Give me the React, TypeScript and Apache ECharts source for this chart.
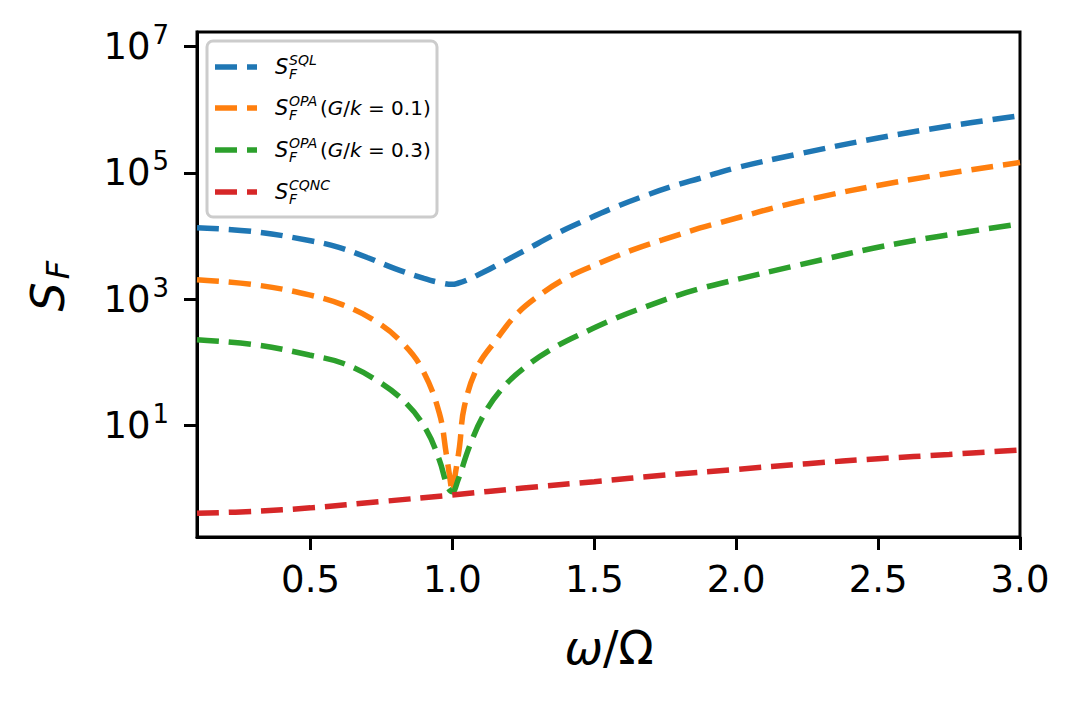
import React, { useEffect, useRef } from "react";
import * as echarts from "echarts";

// ---- data ----
const sqlX = [0.1, 0.3, 0.5, 0.6, 0.7, 0.8, 0.9, 0.95, 1.0, 1.019, 1.05, 1.107, 1.166, 1.259, 1.365, 1.471, 1.564, 1.67, 1.775, 1.87, 2.0, 2.222, 2.5, 2.75, 3.0];
const sqlY = [13500, 11750, 8410, 6610, 4570, 3020, 2140, 1860, 1720, 1790, 2000, 2640, 3630, 6030, 10800, 18000, 27500, 42000, 61000, 81300, 120000, 199500, 354800, 549500, 803500];

const opa1X = [0.1, 0.309, 0.496, 0.614, 0.731, 0.825, 0.895, 0.954, 0.978, 0.99, 1.0, 1.01, 1.025, 1.042, 1.089, 1.154, 1.224, 1.3, 1.4, 1.518, 1.635, 1.74, 1.87, 1.94, 2.222, 2.574, 3.0];
const opa1Y = [2040, 1680, 1170, 813, 443, 201, 76, 15.7, 3.66, 1.6, 0.9, 1.7, 4.66, 20, 86, 227, 565, 1100, 2150, 3720, 6030, 8670, 13300, 16200, 35000, 72600, 146000];

const opa3X = [0.1, 0.309, 0.496, 0.614, 0.731, 0.837, 0.908, 0.954, 0.983, 1.0, 1.019, 1.06, 1.107, 1.171, 1.259, 1.365, 1.471, 1.576, 1.682, 1.799, 1.87, 1.94, 2.222, 2.574, 3.0];
const opa3Y = [229, 189, 131, 97, 52.8, 22.6, 8.55, 2.86, 1.08, 0.9, 1.35, 4.66, 13.9, 36.7, 85.9, 178, 307, 501, 764, 1170, 1460, 1760, 3490, 7690, 15500];

const cqncX = [0.1, 0.3, 0.5, 0.75, 1.0, 1.25, 1.5, 1.75, 2.0, 2.25, 2.5, 2.75, 3.0];
const cqncY = [0.41, 0.44, 0.5, 0.63, 0.8, 1.03, 1.3, 1.65, 2.03, 2.5, 3.0, 3.5, 4.12];

const xTicks = [0.5, 1.0, 1.5, 2.0, 2.5, 3.0];
const yTicks = [10, 1000, 100000, 10000000];

const seriesColors = ["#1f77b4", "#ff7f0e", "#2ca02c", "#d62728"];
const legendSup = ["SQL", "OPA", "OPA", "CQNC"];
const legendTail = ["", "(G/k = 0.1)", "(G/k = 0.3)", ""];
const seriesNames = ["S_F^SQL", "S_F^OPA(G/k=0.1)", "S_F^OPA(G/k=0.3)", "S_F^CQNC"];

const FONT = '"DejaVu Sans", "Liberation Sans", sans-serif';
const DASH = [22, 10];
const LW = 5.5;

function pairs(xs: number[], ys: number[]) {
  return xs.map((x, i) => [x, ys[i]]);
}

export default function App() {
  const ref = useRef<HTMLDivElement>(null);

  useEffect(() => {
    const chart = echarts.init(ref.current!, null, { renderer: "svg" });

    const allData = [pairs(sqlX, sqlY), pairs(opa1X, opa1Y), pairs(opa3X, opa3Y), pairs(cqncX, cqncY)];

    const series = allData.map((d, i) => ({
      name: seriesNames[i],
      type: "line",
      data: d,
      showSymbol: false,
      smooth: 0.4,
      lineStyle: { color: seriesColors[i], width: LW, type: DASH, cap: "butt" },
      itemStyle: { color: seriesColors[i] },
      z: 2 + i,
    }));

    const rowY = [67, 108, 150, 192];
    const legendChildren: any[] = [
      {
        type: "rect",
        shape: { x: 207, y: 41, width: 230, height: 176, r: 6 },
        style: { fill: "rgba(255,255,255,0.85)", stroke: "#cccccc", lineWidth: 3 },
      },
    ];
    rowY.forEach((cy, i) => {
      legendChildren.push({
        type: "line",
        shape: { x1: 215, y1: cy, x2: 257, y2: cy },
        style: { stroke: seriesColors[i], lineWidth: LW, lineDash: DASH },
      });
      legendChildren.push({
        type: "text",
        x: 275,
        y: cy,
        style: { text: "S", fontFamily: FONT, fontStyle: "italic", fontSize: 21, fill: "#000", verticalAlign: "middle", align: "left" },
      });
      legendChildren.push({
        type: "text",
        x: 289,
        y: cy + 7,
        style: { text: "F", fontFamily: FONT, fontStyle: "italic", fontSize: 14, fill: "#000", verticalAlign: "middle", align: "left" },
      });
      legendChildren.push({
        type: "text",
        x: 289,
        y: cy - 7.5,
        style: { text: legendSup[i], fontFamily: FONT, fontStyle: "italic", fontSize: 14, fill: "#000", verticalAlign: "middle", align: "left" },
      });
      if (legendTail[i]) {
        const parts = legendTail[i].match(/^\((G)\/(k) = (.*)\)$/)!;
        legendChildren.push({
          type: "text",
          x: 320,
          y: cy,
          style: {
            text: `({i|${parts[1]}}/{i|${parts[2]}} = ${parts[3]})`,
            fontFamily: FONT,
            fontSize: 20,
            fill: "#000",
            verticalAlign: "middle",
            align: "left",
            rich: { i: { fontFamily: FONT, fontStyle: "italic", fontSize: 20, fill: "#000" } },
          },
        });
      }
    });

    const option: any = {
      animation: false,
      backgroundColor: "#ffffff",
      grid: {
        left: 197,
        top: 32,
        width: 823,
        height: 505,
        show: true,
        borderColor: "#000",
        borderWidth: 3,
        backgroundColor: "transparent",
        containLabel: false,
      },
      xAxis: {
        type: "value",
        min: 0.1,
        max: 3.0,
        splitLine: { show: false },
        axisLine: { show: true, lineStyle: { color: "#000", width: 3 } },
        axisTick: { show: true, length: 13, lineStyle: { color: "#000", width: 3 }, customValues: xTicks },
        axisLabel: {
          customValues: xTicks,
          fontFamily: FONT,
          fontSize: 37,
          color: "#000",
          margin: 24,
          formatter: (v: number) => v.toFixed(1),
        },
      },
      yAxis: {
        type: "log",
        logBase: 10,
        min: 0.173,
        max: 1.69e7,
        splitLine: { show: false },
        minorTick: { show: false },
        axisLine: { show: true, lineStyle: { color: "#000", width: 3 } },
        axisTick: { show: true, length: 13, lineStyle: { color: "#000", width: 3 }, customValues: yTicks },
        axisLabel: {
          customValues: yTicks,
          margin: 28,
          formatter: (v: number) => `{b|10}{s|${Math.round(Math.log10(v))}}`,
          rich: {
            b: { fontFamily: FONT, fontSize: 37, color: "#000", padding: [6, 0, 6, 0], verticalAlign: "middle" },
            s: { fontFamily: FONT, fontSize: 26, color: "#000", verticalAlign: "top", padding: [0, 0, 0, 2] },
          },
        },
      },
      graphic: [
        { type: "group", children: legendChildren, z: 100 },
        {
          type: "group",
          x: 48,
          y: 297,
          rotation: Math.PI / 2,
          children: [
            { type: "text", x: 0, y: 0, style: { text: "S", fontFamily: FONT, fontStyle: "italic", fontSize: 46, fill: "#000", align: "center", verticalAlign: "middle" } },
            { type: "text", x: 27, y: 10, style: { text: "F", fontFamily: FONT, fontStyle: "italic", fontSize: 32, fill: "#000", align: "center", verticalAlign: "middle" } },
          ],
        },
        {
          type: "text",
          x: 609,
          y: 648,
          style: {
            text: "{i|ω}/Ω",
            fontFamily: FONT,
            fontSize: 46,
            fill: "#000",
            align: "center",
            verticalAlign: "middle",
            rich: { i: { fontFamily: FONT, fontStyle: "italic", fontSize: 46, fill: "#000" } },
          },
        },
      ],
      series,
    };

    chart.setOption(option);
    return () => chart.dispose();
  }, []);

  return (
    <div
      ref={ref}
      style={{ position: "absolute", left: 0, top: 0, width: 1083, height: 703, background: "#fff" }}
    />
  );
}
